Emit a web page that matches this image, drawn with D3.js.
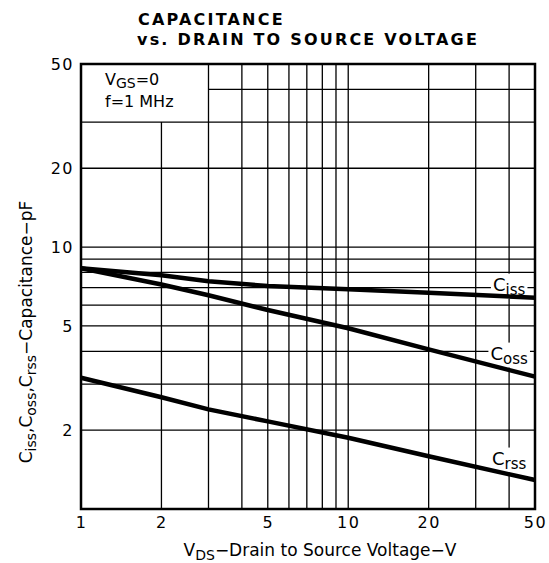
<!DOCTYPE html>
<html>
<head>
<meta charset="utf-8">
<script src="https://cdn.jsdelivr.net/npm/d3@7"></script>
<style>
  body { margin: 0; background: #fff; }
  svg { display: block; font-family: "DejaVu Sans", "Liberation Sans", Arial, sans-serif; }
</style>
</head>
<body>
<svg id="chart" width="549" height="563"></svg>
<script>
// Drain to source voltage samples (V)
var vds = [1, 2, 3, 5, 10, 20, 50];
// Capacitance (pF)
var ciss = [8.3, 7.8, 7.4, 7.1, 6.9, 6.7, 6.4];
var coss = [8.3, 7.2, 6.55, 5.75, 4.9, 4.07, 3.2];
var crss = [3.17, 2.67, 2.4, 2.16, 1.87, 1.59, 1.29];

var seriesNames = ['iss', 'oss', 'rss'];
var seriesValues = [ciss, coss, crss];
// where each curve label sits (V, pF)
var labelAt = [[40, 7.15], [40, 3.9], [40, 1.55]];

var xTicks = [1, 2, 5, 10, 20, 50];
var yTicks = [2, 5, 10, 20, 50];
var xGrid = [2, 3, 4, 5, 6, 7, 8, 9, 10, 20, 30, 40];
var yGrid = [2, 3, 4, 5, 6, 7, 8, 9, 10, 20, 30, 40];

var svg = d3.select('#chart');

var x = d3.scaleLog().domain([1, 50]).range([81, 535]);
var y = d3.scaleLog().domain([1, 50]).range([509, 64]);

// Grid (the note box in the top-left corner hides the lines inside it)
var grid = svg.append('g').attr('stroke', '#000').attr('stroke-width', 1.3);
grid.selectAll('line.v')
    .data(xGrid)
  .enter().append('line')
    .attr('class', 'v')
    .attr('x1', function(d){ return x(d); })
    .attr('x2', function(d){ return x(d); })
    .attr('y1', function(d){ return d < 3 ? y(30) : y(50); })
    .attr('y2', y(1));
grid.selectAll('line.h')
    .data(yGrid)
  .enter().append('line')
    .attr('class', 'h')
    .attr('y1', function(d){ return y(d); })
    .attr('y2', function(d){ return y(d); })
    .attr('x1', function(d){ return d > 30 ? x(3) : x(1); })
    .attr('x2', x(50));

// Curve labels, with white patches under them
var labels = svg.append('g').selectAll('g.lab')
    .data(seriesNames)
  .enter().append('g')
    .attr('class', 'lab');
var labelText = labels.append('text')
    .attr('x', function(d, i){ return x(labelAt[i][0]); })
    .attr('y', function(d, i){ return y(labelAt[i][1]); })
    .attr('dy', '0.3em')
    .attr('text-anchor', 'middle')
    .attr('font-size', 18);
labelText.append('tspan').text('C');
labelText.append('tspan')
    .attr('dy', 4)
    .attr('font-size', 15)
    .text(function(d){ return d; });
labels.each(function() {
  var b = d3.select(this).select('text').node().getBBox();
  d3.select(this).insert('rect', 'text')
      .attr('x', b.x - 2)
      .attr('y', b.y)
      .attr('width', b.width + 4)
      .attr('height', b.height)
      .attr('fill', '#fff');
});

// Curves
var line = d3.line()
    .x(function(d){ return x(d[0]); })
    .y(function(d){ return y(d[1]); });
svg.append('g').selectAll('path.curve')
    .data(seriesValues)
  .enter().append('path')
    .attr('class', 'curve')
    .attr('fill', 'none')
    .attr('stroke', '#000')
    .attr('stroke-width', 4.5)
    .attr('d', function(vals){ return line(vds.map(function(v, i){ return [v, vals[i]]; })); });

// raise label text above the curves
labels.each(function(){ this.parentNode.appendChild(this); });

// Frame
svg.append('rect')
    .attr('x', x(1))
    .attr('y', y(50))
    .attr('width', x(50) - x(1))
    .attr('height', y(1) - y(50))
    .attr('fill', 'none')
    .attr('stroke', '#000')
    .attr('stroke-width', 2.5);

// Axes
var xAxis = svg.append('g')
    .attr('transform', 'translate(0,' + y(1) + ')')
    .call(d3.axisBottom(x).tickValues(xTicks).tickFormat(d3.format('d')).tickSize(0).tickPadding(8));
var yAxis = svg.append('g')
    .attr('transform', 'translate(' + x(1) + ',0)')
    .call(d3.axisLeft(y).tickValues(yTicks).tickFormat(d3.format('d')).tickSize(0).tickPadding(7));
[xAxis, yAxis].forEach(function(a) {
  a.select('.domain').remove();
  a.selectAll('text')
      .attr('font-family', '"DejaVu Sans", sans-serif')
      .attr('font-size', 16)
      .attr('letter-spacing', 1.5)
      .attr('fill', '#000');
});

// Note box text
var note = svg.append('g').attr('font-size', 16);
var vgs = note.append('text').attr('x', x(1) + 24).attr('y', y(50) + 21);
vgs.append('tspan').text('V');
vgs.append('tspan').attr('dy', 3).attr('font-size', 14).text('GS');
vgs.append('tspan').attr('dy', -3).text('=0');
note.append('text').attr('x', x(1) + 24).attr('y', y(50) + 43).text('f=1 MHz');

// Title
var title = svg.append('g')
    .attr('font-weight', 'bold')
    .attr('font-size', 16)
    .attr('letter-spacing', 2.2);
title.append('text').attr('x', 138).attr('y', 25).text('CAPACITANCE');
title.append('text').attr('x', 137).attr('y', 45).text('vs. DRAIN TO SOURCE VOLTAGE');

// Axis titles
var xt = svg.append('text')
    .attr('x', (x(1) + x(50)) / 2 + 12)
    .attr('y', 556)
    .attr('text-anchor', 'middle')
    .attr('font-size', 17);
xt.append('tspan').text('V');
xt.append('tspan').attr('dy', 4).attr('font-size', 14).text('DS');
xt.append('tspan').attr('dy', -4).text('\u2212Drain to Source Voltage\u2212V');

var yt = svg.append('text')
    .attr('transform', 'translate(32,332) rotate(-90)')
    .attr('text-anchor', 'middle')
    .attr('font-size', 17);
yt.append('tspan').text('C');
yt.append('tspan').attr('dy', 4).attr('font-size', 14).text('iss');
yt.append('tspan').attr('dy', -4).text(',C');
yt.append('tspan').attr('dy', 4).attr('font-size', 14).text('oss');
yt.append('tspan').attr('dy', -4).text(',C');
yt.append('tspan').attr('dy', 4).attr('font-size', 14).text('rss');
yt.append('tspan').attr('dy', -4).text('\u2212Capacitance\u2212pF');
</script>
</body>
</html>
